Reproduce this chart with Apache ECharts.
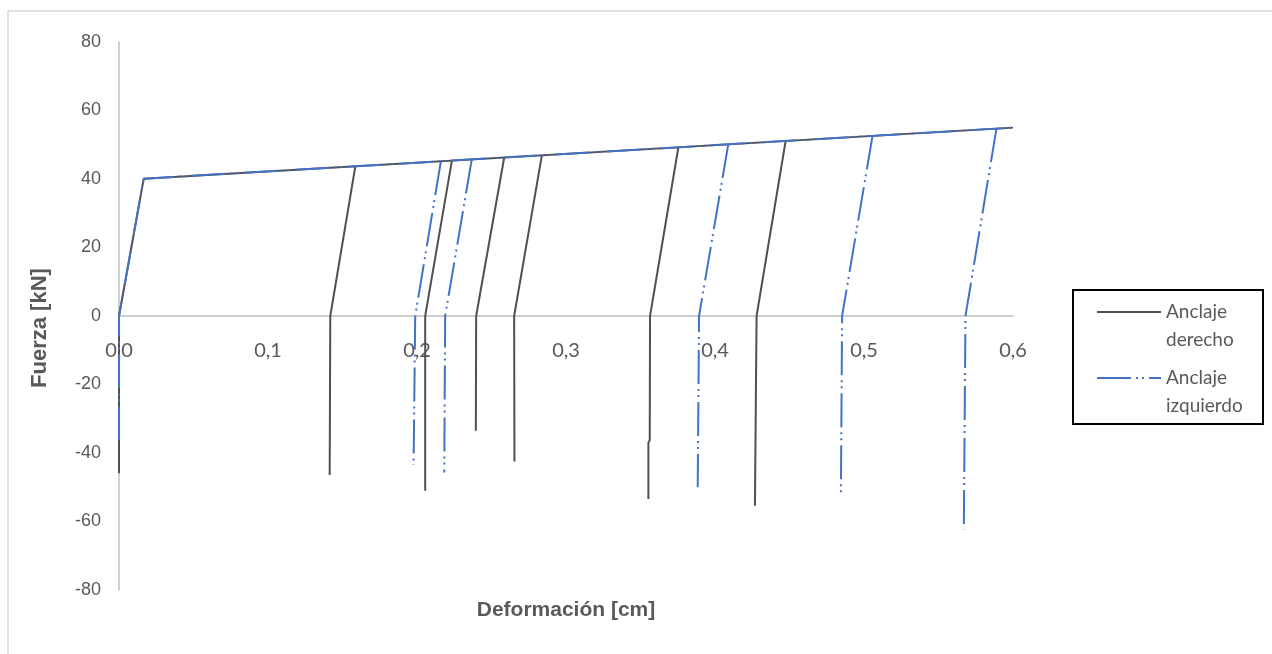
<!DOCTYPE html>
<html>
<head>
<meta charset="utf-8">
<script src="https://cdn.jsdelivr.net/npm/echarts@6/dist/echarts.min.js"></script>
<style>
  html, body { margin: 0; padding: 0; background: #ffffff; }
  #chart { width: 1272px; height: 654px; }
</style>
</head>
<body>
<div id="chart"></div>
<script>
// Axis ranges and ticks
const xMin = 0, xMax = 0.6, xStep = 0.1;
const yMin = -80, yMax = 80, yStep = 20;

const seriesNames = ['Anclaje derecho', 'Anclaje izquierdo'];

// Right anchor: initial loading path and envelope [deformation cm, force kN]
const derechoLoad = [[0, -45.9], [0, 0], [0.0166, 40.1], [0.6, 55.0]];
// Right anchor: unloading branches (envelope point -> zero force -> compression)
const derechoUnload = [
  [[0.1586, 43.7], [0.1418, 0], [0.1414, -46.4]],
  [[0.2234, 45.3], [0.2055, 0], [0.2055, -51.0]],
  [[0.2585, 46.2], [0.2397, 0], [0.2395, -33.5]],
  [[0.2838, 46.9], [0.2652, 0], [0.2654, -42.5]],
  [[0.3754, 49.2], [0.3564, 0], [0.3562, -36.2], [0.3553, -37.0], [0.3553, -53.4]],
  [[0.4474, 51.1], [0.4279, 0], [0.4268, -55.4]]
];

// Left anchor: initial loading path and envelope
const izquierdoLoad = [[0, -36.3], [0, 0], [0.0166, 40.1], [0.6, 55.0]];
// Left anchor: unloading branches
const izquierdoUnload = [
  [[0.2160, 45.1], [0.1988, 0], [0.1977, -43.5]],
  [[0.2367, 45.6], [0.2189, 0], [0.2183, -45.7]],
  [[0.4089, 50.1], [0.3893, 0], [0.3884, -50.0]],
  [[0.5057, 52.6], [0.4853, 0], [0.4845, -51.9]],
  [[0.5889, 54.7], [0.5681, 0], [0.5670, -62.3]]
];

const grayColor = '#505050';
const blueColor = '#4472C4';
const textColor = '#595959';
const axisColor = '#bfbfbf';

// plot area geometry
const gridTop = 42, gridBottom = 64, chartH = 654;
const plotH = chartH - gridTop - gridBottom;
// shift the x axis (line and labels) up to the y = 0 level
const xAxisOffset = -plotH * (0 - yMin) / (yMax - yMin);

function branch(name, data, color, dash) {
  return {
    name: name,
    type: 'line',
    data: data,
    symbol: 'none',
    showSymbol: false,
    animation: false,
    silent: true,
    lineStyle: { color: color, width: 2, type: dash },
    itemStyle: { color: color }
  };
}

const blueDash = [34, 5, 2, 4, 2, 5];
const series = [];
series.push(branch(seriesNames[0], derechoLoad, grayColor, 'solid'));
derechoUnload.forEach(b => series.push(branch(seriesNames[0], b, grayColor, 'solid')));
series.push(branch(seriesNames[1], izquierdoLoad, blueColor, blueDash));
izquierdoUnload.forEach(b => series.push(branch(seriesNames[1], b, blueColor, blueDash)));

const chart = echarts.init(document.getElementById('chart'), null, { renderer: 'canvas' });
chart.setOption({
  backgroundColor: '#ffffff',
  animation: false,
  grid: { left: 119, right: 259, top: gridTop, bottom: gridBottom, containLabel: false },
  xAxis: {
    type: 'value',
    position: 'bottom',
    offset: xAxisOffset,
    min: xMin, max: xMax, interval: xStep,
    axisLine: { onZero: false, lineStyle: { color: axisColor, width: 1.5 } },
    axisTick: { show: false },
    splitLine: { show: false },
    axisLabel: {
      margin: 25,
      color: textColor,
      fontFamily: 'Lato',
      fontSize: 20,
      formatter: v => v.toFixed(1).replace('.', ','),
      showMaxLabel: true, showMinLabel: true
    }
  },
  yAxis: {
    type: 'value',
    min: yMin, max: yMax, interval: yStep,
    axisLine: { show: true, onZero: false, lineStyle: { color: axisColor, width: 1.5 } },
    axisTick: { show: false },
    splitLine: { show: false },
    axisLabel: {
      margin: 18,
      color: textColor,
      fontFamily: 'Liberation Sans',
      fontSize: 18
    }
  },
  legend: {
    data: seriesNames,
    orient: 'vertical',
    left: 1096,
    top: 270,
    padding: 0,
    itemWidth: 64,
    itemHeight: 14,
    itemGap: -18,
    selectedMode: false,
    itemStyle: { opacity: 0 },
    // leading blank line keeps the first text line level with the line sample
    formatter: n => '\n' + n.replace(' ', '\n'),
    textStyle: {
      color: textColor,
      fontFamily: 'Lato',
      fontSize: 19,
      lineHeight: 28
    }
  },
  graphic: [
    { type: 'rect', silent: true, z: -1,
      shape: { x: 8, y: 11, width: 1300, height: 700 },
      style: { fill: 'none', stroke: '#d9d9d9', lineWidth: 1.5 } },
    { type: 'rect', silent: true,
      shape: { x: 1073, y: 290, width: 190, height: 134 },
      style: { fill: 'none', stroke: '#000000', lineWidth: 2 } },
    { type: 'text', silent: true,
      x: 40, y: 328, rotation: Math.PI / 2,
      style: { text: 'Fuerza [kN]', fill: textColor, font: 'bold 22px "Liberation Sans"',
               align: 'center', verticalAlign: 'middle' } },
    { type: 'text', silent: true,
      x: 566, y: 610,
      style: { text: 'Deformación [cm]', fill: textColor, font: 'bold 21px "Liberation Sans"',
               align: 'center', verticalAlign: 'middle' } }
  ],
  series: series
});
</script>
</body>
</html>
